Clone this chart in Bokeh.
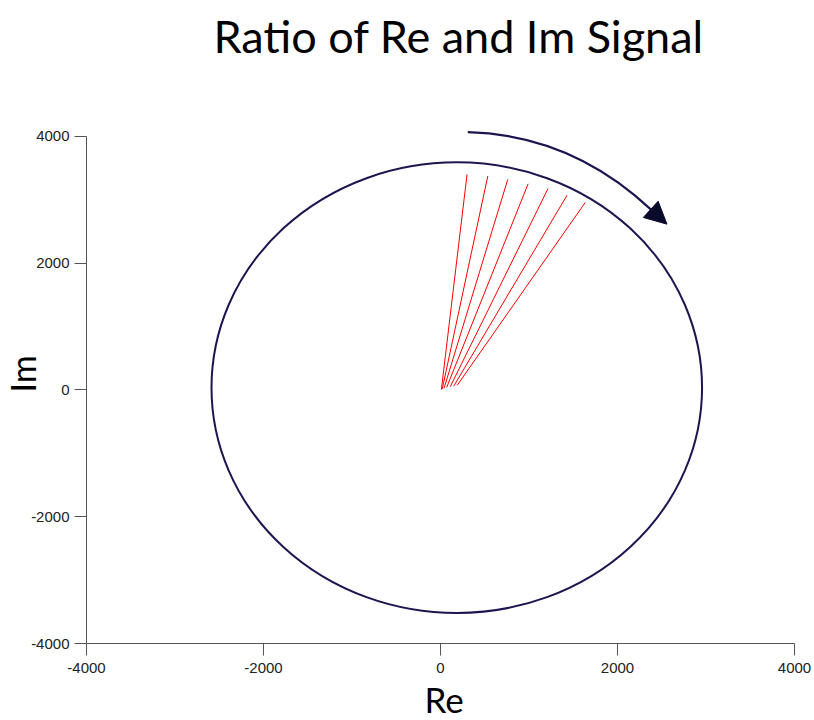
from bokeh.embed import file_html
from bokeh.models import Arrow, FixedTicker, NormalHead, Range1d, Title
from bokeh.plotting import figure
from bokeh.resources import INLINE

# Re/Im trajectory, drawn as an ellipse (centre and full extents in signal units)
trace_center_re = [184]
trace_center_im = [35]
trace_width = [5543]
trace_height = [7107]

# Individual signal vectors (start and end points, Re / Im)
vec_re0 = [10, 20, 40, 70, 110, 150, 190]
vec_im0 = [5, 15, 25, 40, 50, 60, 75]
vec_re1 = [300, 535, 760, 990, 1215, 1430, 1635]
vec_im1 = [3400, 3375, 3320, 3250, 3175, 3070, 2955]

# Rotation-direction arrow: cubic curve and head
arrow_re = [308, 1247, 1926, 2379]   # start, control 1, control 2, end
arrow_im = [4064, 4032, 3436, 2843]
arrow_tip = (2559, 2614)

axis_ticks = [-4000, -2000, 0, 2000, 4000]
tick_text = {t: str(t) for t in axis_ticks}   # plain hyphen minus signs

NAVY = "#1c1650"
AXIS = "#555555"

p = figure(
    width=814, height=720,
    x_range=Range1d(-4000, 4000), y_range=Range1d(-4000, 5069),
    min_border_left=86, min_border_right=20,
    min_border_top=66, min_border_bottom=77,
    output_backend="svg", toolbar_location=None,
    background_fill_color="white", border_fill_color="white",
)
p.outline_line_color = None
p.grid.visible = False

p.title.text = "Ratio of Re and Im Signal"
p.title.text_font = "Lato"
p.title.text_font_style = "normal"
p.title.text_font_size = "45px"
p.title.text_color = "black"
p.title.align = "left"
p.title.offset = 127
p.title.standoff = 12

for ax in (p.xaxis[0], p.yaxis[0]):
    ax.ticker = FixedTicker(ticks=axis_ticks)
    ax.major_label_overrides = tick_text
    ax.bounds = (-4000, 4000)
    ax.axis_line_color = AXIS
    ax.major_tick_line_color = AXIS
    ax.major_tick_out = 12
    ax.major_tick_in = 0
    ax.minor_tick_line_color = None
    ax.major_label_text_font = "Liberation Sans"
    ax.major_label_text_font_size = "15px"
    ax.major_label_text_color = "#222222"
p.xaxis.major_label_standoff = 7
p.yaxis.major_label_standoff = 5

# axis titles
p.add_layout(Title(text="Re", text_font="Lato", text_font_style="normal",
                   text_font_size="35px", text_color="black",
                   align="left", offset=338, standoff=1), "below")
p.add_layout(Title(text="Im", text_font="Lato", text_font_style="normal",
                   text_font_size="34px", text_color="black",
                   align="left", offset=251, standoff=-28), "left")

# trajectory
p.ellipse(x=trace_center_re, y=trace_center_im, width=trace_width, height=trace_height,
          fill_color=None, line_color=NAVY, line_width=2)

# signal vectors
p.segment(x0=vec_re0, y0=vec_im0, x1=vec_re1, y1=vec_im1,
          line_color="#ff0000", line_width=1)

# rotation arrow
p.bezier(x0=[arrow_re[0]], y0=[arrow_im[0]], x1=[arrow_re[3]], y1=[arrow_im[3]],
         cx0=[arrow_re[1]], cy0=[arrow_im[1]], cx1=[arrow_re[2]], cy1=[arrow_im[2]],
         line_color=NAVY, line_width=2.2)
p.add_layout(Arrow(
    x_start=arrow_re[3], y_start=arrow_im[3], x_end=arrow_tip[0], y_end=arrow_tip[1],
    line_color=NAVY, line_width=2.2,
    end=NormalHead(size=22, fill_color="#0a0a2a", line_color="#0a0a2a"),
))

open("out.html", "w").write(file_html(p, INLINE))
